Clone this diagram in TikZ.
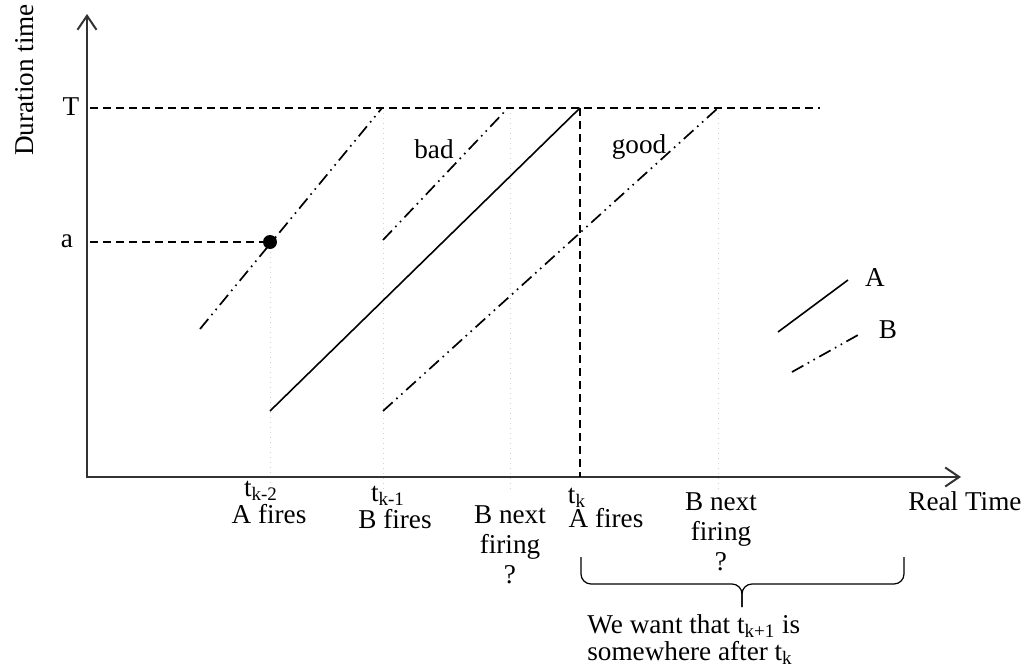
\documentclass[tikz,border=0pt]{standalone}
\usepackage{fontspec}
\setmainfont{Liberation Serif}
\usetikzlibrary{arrows.meta}

\begin{document}
\begin{tikzpicture}[
    x=0.5pt, y=-0.5pt,
    every node/.style={font=\fontsize{13.6}{15}\selectfont, inner sep=0pt},
    axis/.style={
        draw=black!80,
        line width=1pt,
        {Straight Barb[length=7pt,width=9.5pt]}-{Straight Barb[length=7pt,width=9.5pt]}
    },
    lineA/.style={black, line width=0.8pt},
    lineB/.style={
        black,
        line width=0.85pt,
        dash pattern=on 6.5pt off 2.5pt on 0.8pt off 2.5pt on 0.8pt off 2.5pt
    },
    level/.style={black, line width=0.75pt, dash pattern=on 4pt off 2.5pt},
    guide/.style={gray!35, line width=0.5pt, dotted},
    lbl/.style={anchor=base, align=center},
    brace/.style={black, line width=0.6pt, rounded corners=5pt}
]
\useasboundingbox (0,0) rectangle (1029,669);

% Hulplijnen
\foreach \x/\top in {270/242, 383/108, 510/108, 718/108}
    \draw[guide] (\x,\top) -- (\x,490);

% Assen
\coordinate (O) at (87,477);
\coordinate (ytop) at (87,14);
\coordinate (xend) at (961,477);
\draw[axis] (ytop) -- (O) -- (xend);

\node[anchor=base, rotate=90] (ylab) at (33,80) {Duration time};
\node[anchor=base west] (rt) at (908,510) {Real Time};
\node[anchor=base] (Tlab) at (71,115) {T};
\node[anchor=base] (alab) at (67,247) {a};

% Niveaus T en a
\coordinate (Tl) at (90,108);
\coordinate (Tr) at (820,108);
\draw[level] (Tl) -- (Tr);

\node[circle, fill=black, minimum size=7pt] (dot) at (270,242) {};
\coordinate (al) at (90,242);
\draw[level] (al) -- (dot);

% Lijnen
\coordinate (b1s) at (200,329);
\coordinate (b1e) at (382,108);
\draw[lineB] (b1s) -- (b1e);

\coordinate (b2s) at (383,240);
\coordinate (b2e) at (508,108);
\draw[lineB] (b2s) -- (b2e);

\coordinate (a1s) at (270,411);
\coordinate (a1e) at (580,108);
\draw[lineA] (a1s) -- (a1e);

\coordinate (b3s) at (383,411);
\coordinate (b3e) at (718,108);
\draw[lineB] (b3s) -- (b3e);

\coordinate (tk) at (580,477);
\draw[level] (a1e) -- (tk);

\node[anchor=base] (bad) at (434,158) {bad};
\node[anchor=base] (good) at (639,153) {good};

% Legenda
\coordinate (legAs) at (778,332);
\coordinate (legAe) at (848,280);
\draw[lineA] (legAs) -- (legAe);
\node[anchor=base] (legA) at (875,286) {A};

\coordinate (legBs) at (792,372);
\coordinate (legBe) at (858,335);
\draw[lineB] (legBs) -- (legBe);
\node[anchor=base] (legB) at (888,338) {B};

% Tijdstippen
\node[anchor=base] (t2) at (261,496) {t\textsubscript{k-2}};
\node[anchor=base] (f2) at (269,523) {A fires};
\node[anchor=base] (t1) at (388,501) {t\textsubscript{k-1}};
\node[anchor=base] (f1) at (395,528) {B fires};
\node[lbl] (n1) at (510,583) {B next\\firing\\?};
\node[anchor=base] (t0) at (577,503) {t\textsubscript{k}};
\node[anchor=base] (f0) at (606,527) {A fires};
\node[lbl] (n2) at (721,570) {B next\\firing\\?};

% Accolade
\coordinate (brL) at (581,557);
\coordinate (brR) at (904,557);
\coordinate (brMid) at (742,584);
\coordinate (brTip) at (742,607);
\draw[brace] (brL) |- (brMid) -- (brTip);
\draw[brace] (brTip) -- (brMid) -| (brR);

\node[anchor=base west] (want1) at (587,633) {We want that t\textsubscript{k+1} is};
\node[anchor=base west] (want2) at (587,660) {somewhere after t\textsubscript{k}};

\end{tikzpicture}
\end{document}
